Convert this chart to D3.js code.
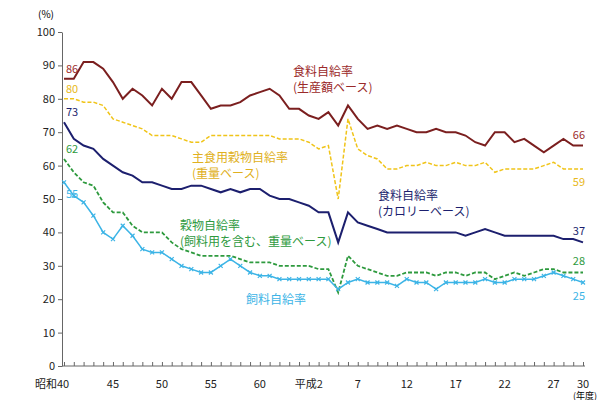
<!DOCTYPE html>
<html>
<head>
<meta charset="utf-8">
<script src="https://d3js.org/d3.v7.min.js"></script>
<style>
  body { margin: 0; background: #fff; }
  text { font-family: "Noto Sans CJK JP", sans-serif; }
</style>
</head>
<body>
<svg id="chart" width="600" height="400"></svg>
<script>
// fiscal years 昭和40 (1965) .. 平成30 (2018)
var years = d3.range(1965, 2019);
var tickYears = [1965, 1970, 1975, 1980, 1985, 1990, 1995, 2000, 2005, 2010, 2015, 2018];
var tickLabels = ["昭和40", "45", "50", "55", "60", "平成2", "7", "12", "17", "22", "27", "30"];

var seisan = [86,86,91,91,89,85,80,83,81,78,83,80,85,85,81,77,78,78,79,81,82,83,81,77,77,75,74,76,72,78,74,71,72,71,72,71,70,70,71,70,70,69,67,66,70,70,67,68,66,64,66,68,66,66];
var shushoku = [80,80,79,79,78,74,73,72,71,69,69,69,68,67,67,69,69,69,69,69,69,69,68,68,68,67,65,66,50,74,65,63,62,59,59,60,60,61,60,60,61,60,60,61,58,59,59,59,59,60,61,59,59,59];
var calorie = [73,68,66,65,62,60,58,57,55,55,54,53,53,54,54,53,52,53,52,53,53,51,50,50,49,48,46,46,37,46,43,42,41,40,40,40,40,40,40,40,40,39,40,41,40,39,39,39,39,39,39,38,38,37];
var kokumotsu = [62,58,55,54,49,46,46,42,40,40,40,37,35,34,33,33,33,33,32,31,31,31,30,30,30,30,29,29,22,33,30,29,28,27,27,28,28,28,27,28,28,27,28,28,26,27,28,27,28,29,29,28,28,28];
var shiryo = [55,51,49,45,40,38,42,39,35,34,34,32,30,29,28,28,30,32,30,28,27,27,26,26,26,26,26,26,23,25,26,25,25,25,24,26,25,25,23,25,25,25,25,26,25,25,26,26,26,27,28,27,26,25];

var svg = d3.select("#chart");
var x = d3.scaleLinear().domain([1965, 2018]).range([64, 583]);
var y = d3.scaleLinear().domain([0, 100]).range([366, 32]);

// axes
var yAxis = svg.append("g").attr("transform", "translate(62,0)")
  .call(d3.axisLeft(y).tickValues(d3.range(0, 101, 10)).tickSize(4).tickSizeOuter(0));
var xAxis = svg.append("g").attr("transform", "translate(0,366)")
  .call(d3.axisTop(x).tickValues(years).tickSize(4).tickFormat("").tickSizeOuter(0));
svg.selectAll(".domain, .tick line").attr("stroke", "#666");
xAxis.select(".domain").attr("d", "M62,0H585");
yAxis.selectAll("text").attr("font-size", 11).attr("fill", "#222");

svg.selectAll(".xlab").data(tickYears).enter().append("text")
  .attr("x", d => x(d) + (d === 1965 ? -12 : 0))
  .attr("y", 388).attr("text-anchor", "middle")
  .attr("font-size", 11).attr("fill", "#222")
  .text((d, i) => tickLabels[i]);
svg.append("text").attr("x", 38).attr("y", 18).attr("font-size", 10).text("(%)");
svg.append("text").attr("x", 585).attr("y", 399).attr("text-anchor", "middle").attr("font-size", 9).text("(年度)");

var line = d3.line().x((d, i) => x(years[i])).y(d => y(d));

function draw(data, color, width, dash) {
  svg.append("path").datum(data).attr("d", line)
    .attr("fill", "none").attr("stroke", color)
    .attr("stroke-width", width).attr("stroke-dasharray", dash || null);
}
draw(seisan, "#7b1f1f", 2);
draw(shushoku, "#f0c419", 1.5, "4,2");
draw(calorie, "#1c1f6e", 2);
draw(kokumotsu, "#2e9a3e", 1.8, "4,2");
draw(shiryo, "#3cb4e6", 1.5);

svg.selectAll(".xm").data(shiryo).enter().append("path")
  .attr("transform", (d, i) => "translate(" + x(years[i]) + "," + y(d) + ")")
  .attr("d", "M-2,-2L2,2M-2,2L2,-2").attr("stroke", "#3cb4e6").attr("stroke-width", 1.2);

// value labels at both ends: [data, colour, start below?, end below?]
var ends = [[seisan, "#9b2a2a", 0, 0], [shushoku, "#e8b820", 0, 1], [calorie, "#1c1f6e", 0, 0],
            [kokumotsu, "#2e9a3e", 0, 0], [shiryo, "#3cb4e6", 1, 1]];
ends.forEach(function(e) {
  var d = e[0];
  svg.append("text").attr("x", x(1965) + 2).attr("y", y(d[0]) + (e[2] ? 16 : -6))
    .attr("font-size", 11).attr("fill", e[1]).text(d[0]);
  svg.append("text").attr("x", x(2018) + 2).attr("y", y(d[d.length - 1]) + (e[3] ? 17 : -7))
    .attr("text-anchor", "end").attr("font-size", 11).attr("fill", e[1]).text(d[d.length - 1]);
});

// series names
function label(lines, lx, ly, color) {
  lines.forEach(function(t, i) {
    svg.append("text").attr("x", lx).attr("y", ly + i * 16)
      .attr("font-size", 12).attr("fill", color).text(t);
  });
}
label(["食料自給率", "(生産額ベース)"], 293, 76, "#9b2a2a");
label(["主食用穀物自給率", "(重量ベース)"], 192, 162, "#e0b020");
label(["食料自給率", "(カロリーベース)"], 378, 200, "#1c1f6e");
label(["穀物自給率", "(飼料用を含む、重量ベース)"], 180, 230, "#2e9a3e");
label(["飼料自給率"], 246, 304, "#3cb4e6");
</script>
</body>
</html>
